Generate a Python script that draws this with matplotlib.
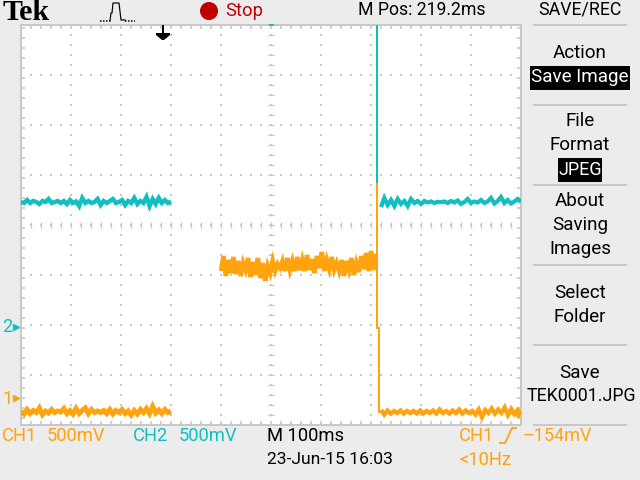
import numpy as np
import matplotlib
matplotlib.use("Agg")
import matplotlib.pyplot as plt
from matplotlib.patches import Circle, Rectangle
from matplotlib.ticker import MultipleLocator

# Values in mV (500 mV/div, 100 ms/div)
ch2_left = [1230,1220,1250,1220,1240,1230,1210,1240,1230,1260,1220,1230,1240,1220,1240,1210,1250,1220,1235,1190,1270,1220,1240,1220,1230,1260,1200,1240,1220,1240,1260,1220,1230,1250,1200,1240,1220,1270,1210,1240,1220,1280,1190,1260,1210,1270,1220,1250,1220,1235]
ch2_right = [1180,1270,1200,1250,1190,1260,1210,1240,1190,1260,1220,1240,1210,1240,1225,1235,1220,1232,1228,1235,1220,1240,1225,1245,1210,1230,1260,1220,1235,1225,1250,1220,1235,1270,1215,1240,1280,1220,1250,1215,1235,1260,1230]
ch1_low_left = [-130,-160,-115,-155,-125,-145,-100,-165,-130,-150,-115,-145,-130,-140,-105,-155,-125,-160,-105,-155,-125,-100,-155,-115,-145,-130,-145,-125,-155,-115,-160,-125,-145,-115,-155,-130,-170,-125,-160,-115,-145,-105,-155,-85,-150,-120,-155,-115,-145,-130]
ch1_mid = [1270,1420,1220,1380,1250,1410,1240,1370,1220,1350,1280,1400,1210,1360,1230,1400,1200,1350,1170,1320,1250,1370,1270,1340,1300,1370,1270,1400,1280,1370,1270,1410,1280,1380,1270,1430,1280,1390,1250,1420,1300,1460,1270,1380,1290,1410,1280,1350,1270,1380,1220,1370,1280,1400,1230,1350,1260,1420,1290,1450,1270,1470,1280,1440]
ch1_low_right = [-120,-165,-125,-155,-130,-150,-125,-155,-130,-150,-130,-155,-125,-155,-130,-150,-125,-155,-115,-150,-130,-155,-125,-150,-115,-155,-125,-150,-130,-165,-115,-190,-120,-150,-105,-155,-115,-150,-95,-170,-110,-160,-120,-180]
ch2_edge = [3000, 1410]
ch1_edge = [2140, 700, 700, -140]
ch1_gnd_to_ch2_gnd = 730
left_t = [0, 300]
mid_t = [400, 710]
right_t = [720, 1000]
edge_t2 = [712, 712]
edge_t1 = [712, 712, 716, 716]

GRAY = "#c8c8c8"
TEAL = "#10c0c0"
ORANGE = "#ffa30e"
BG = "#ececec"
px = 0.72
FONT = ["Roboto", "DejaVu Sans"]

fig = plt.figure(figsize=(6.4, 4.8), dpi=100, facecolor=BG)

ov = fig.add_axes([0, 0, 1, 1], zorder=3)
ov.set_xlim(0, 640); ov.set_ylim(480, 0); ov.axis("off"); ov.patch.set_alpha(0)

ax = fig.add_axes([21/640, 55/480, 500/640, 400/480], zorder=2, facecolor="white")
ax.set_xlim(0, 1000)
ax.set_ylim(-270, 3730)
for s in ax.spines.values():
    s.set_color(GRAY); s.set_linewidth(2*px)
ax.set_xticks([]); ax.set_yticks([])
ax.xaxis.set_minor_locator(MultipleLocator(20))
ax.yaxis.set_minor_locator(MultipleLocator(100))
ax.tick_params(which="minor", direction="in", length=4*px, width=1.6*px, color=GRAY,
               top=True, bottom=True, left=True, right=True)

gx = np.arange(100, 1000, 100)
gy = np.arange(230, 3730, 500)
dx = np.arange(20, 1000, 20)
dy = np.arange(-170, 3730, 100)
X, Y = np.meshgrid(gx, dy)
ax.scatter(X.ravel(), Y.ravel(), s=(2.2*px)**2, marker="s", color=GRAY, lw=0, zorder=1)
X, Y = np.meshgrid(dx, gy)
ax.scatter(X.ravel(), Y.ravel(), s=(2.2*px)**2, marker="s", color=GRAY, lw=0, zorder=1)
ax.scatter(np.full(dy.size, 500), dy, s=(6*px)**2, marker="_", linewidths=1.3*px, color=GRAY, zorder=1)
ax.scatter(dx, np.full(dx.size, 1730), s=(6*px)**2, marker="|", linewidths=1.3*px, color=GRAY, zorder=1)

off = ch1_gnd_to_ch2_gnd
st = dict(solid_joinstyle="miter", solid_capstyle="butt")
ax.plot(np.linspace(*left_t, len(ch2_left)), np.array(ch2_left)+off, color=TEAL, lw=4.4*px, zorder=3, **st)
ax.plot(np.linspace(*right_t, len(ch2_right)), np.array(ch2_right)+off, color=TEAL, lw=4.2*px, zorder=3, **st)
ax.plot(edge_t2, np.array(ch2_edge)+off, color=TEAL, lw=2*px, zorder=3)
ax.plot(np.linspace(*left_t, len(ch1_low_left)), ch1_low_left, color=ORANGE, lw=5*px, zorder=4, **st)
ax.plot(np.linspace(*mid_t, len(ch1_mid)), ch1_mid, color=ORANGE, lw=4.6*px, zorder=4, **st)
ax.plot(np.linspace(*right_t, len(ch1_low_right)), ch1_low_right, color=ORANGE, lw=4.4*px, zorder=4, **st)
ax.plot(edge_t1, ch1_edge, color=ORANGE, lw=2*px, zorder=4, solid_joinstyle="miter")

def T(x, y, s, color="black", size=13.2, ha="center", **k):
    k.setdefault("family", FONT)
    ov.text(x, y, s, color=color, fontsize=size, ha=ha, va="center", **k)

# Header
T(3, 12, "Tek", size=21.5, ha="left", family=["Liberation Serif"], weight="bold")
ov.plot([100, 110], [21, 21], color="black", lw=1.5*px, dashes=(1, 1))
ov.plot([110,111,112,113,119,121,125], [21,13,13,3,3,20,20], color="black", lw=1.2*px)
ov.plot([125, 135], [21, 21], color="black", lw=1.5*px, dashes=(1, 1))
ov.add_patch(Circle((209, 11), 9, color="#c00000", lw=0))
T(225, 11, "Stop", color="#c00000", ha="left")
T(358, 10, "M Pos: 219.2ms", ha="left", size=12.7)
T(580, 10, "SAVE/REC", size=12.8)

# Menu
for y in [25, 105, 185, 265, 345, 425]:
    ov.plot([534, 626], [y, y], color=GRAY, lw=2*px)
T(580, 53, "Action", size=13.6)
ov.add_patch(Rectangle((530, 66), 100, 24, color="black", lw=0))
T(580, 77, "Save Image", color="white", size=13.6)
T(580, 121, "File", size=13.6)
T(580, 145, "Format", size=13.6)
ov.add_patch(Rectangle((558, 158), 44, 24, color="black", lw=0))
T(580, 170, "JPEG", color="white", size=13)
T(580, 201, "About", size=13.6)
T(580, 225, "Saving", size=13.6)
T(580, 249, "Images", size=13.6)
T(580, 293, "Select", size=13.6)
T(580, 317, "Folder", size=13.6)
T(580, 373, "Save", size=13.6)
T(581, 396, "TEK0001.JPG", size=12.8)

# Footer
T(2, 436, "CH1", color=ORANGE, ha="left")
T(47, 436, "500mV", color=ORANGE, ha="left", size=13.2)
T(133, 436, "CH2", color=TEAL, ha="left")
T(179, 436, "500mV", color=TEAL, ha="left", size=13.2)
T(267, 436, "M 100ms", ha="left")
T(267, 460, "23-Jun-15 16:03", ha="left", size=12.6)
T(459, 436, "CH1", color=ORANGE, ha="left")
ov.plot([500, 505, 512, 516], [443, 443, 428, 428], color=ORANGE, lw=1.8*px)
T(523, 436, "\u2013154mV", color=ORANGE, ha="left", size=13)
T(459, 460, "<10Hz", color=ORANGE, ha="left")

# Channel and trigger markers
T(2, 327, "2", color=TEAL, ha="left")
ov.plot([16], [327], marker=">", ms=5*px*1.4, color=TEAL, lw=0)
T(2, 399, "1", color=ORANGE, ha="left")
ov.plot([16], [398], marker=">", ms=5*px*1.4, color=ORANGE, lw=0)
ov.plot([163, 163], [26, 33], color="black", lw=2*px)
ov.fill([156, 170, 170, 164, 162, 156], [33, 33, 35, 40, 40, 35], color="black", lw=0)
ov.plot([270, 273], [25, 25], color=TEAL, lw=2*px)
ov.plot([509, 521], [413, 413], color=ORANGE, lw=1.4*px)
ov.plot([515], [413], marker="<", ms=6*px*1.3, color=ORANGE, lw=0)

fig.savefig("out.png", dpi=100, facecolor=BG)
